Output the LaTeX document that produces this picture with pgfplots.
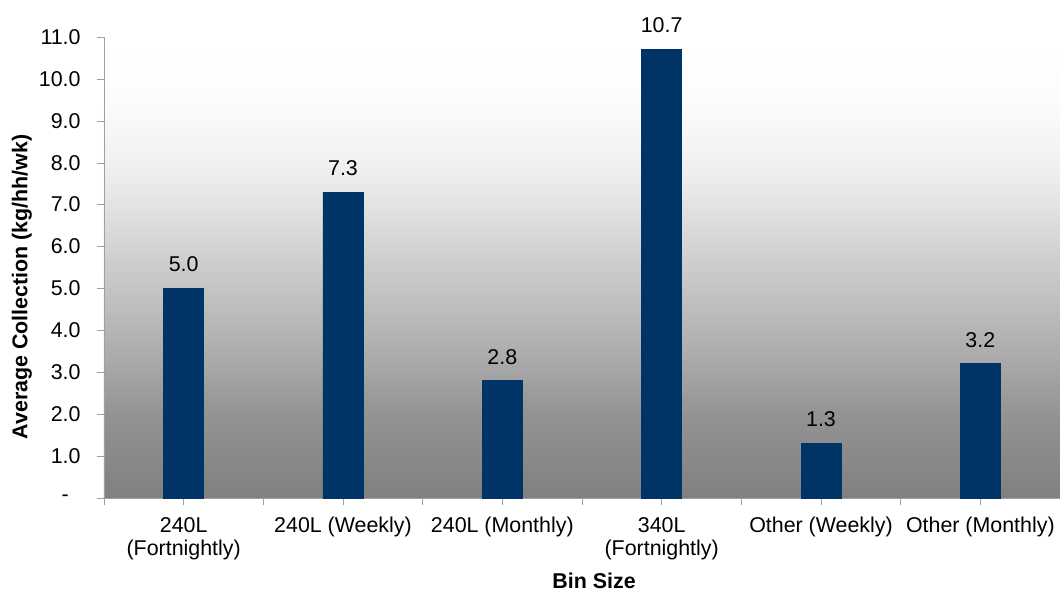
\documentclass[border=0pt]{standalone}
\usepackage{pgfplots}
\pgfplotsset{compat=1.18}
\usepackage{fontspec}
\setmainfont{Liberation Sans}
\definecolor{barblue}{RGB}{0,51,102}
\definecolor{tickgray}{RGB}{160,160,160}
\definecolor{ga}{RGB}{128,128,128}
\definecolor{gb}{RGB}{147,147,147}
\definecolor{gc}{RGB}{170,170,170}
\definecolor{gd}{RGB}{214,214,214}
\definecolor{ge}{RGB}{239,239,239}
\definecolor{gf}{RGB}{252,252,252}
\definecolor{gg}{RGB}{255,255,255}
\pgfdeclareverticalshading{plotbg}{100bp}{color(0bp)=(ga); color(25bp)=(ga); color(34bp)=(gb); color(40bp)=(gc); color(53bp)=(gd); color(60.5bp)=(ge); color(68bp)=(gf); color(75bp)=(gg); color(100bp)=(gg)}
\pgfplotstableread{
x y
0 5.0
1 7.3
2 2.8
3 10.7
4 1.3
5 3.2
}\bindata
\begin{document}
\begin{tikzpicture}
\begin{axis}[
  scale only axis,
  width=478pt, height=230.5pt,
  font=\fontsize{10.7}{11.5}\selectfont,
  axis background/.style={shading=plotbg},
  xmin=-0.5, xmax=5.5,
  ymin=0, ymax=11,
  axis line style={draw=tickgray},
  axis x line*=bottom, axis y line*=left,
  ytick={0,1,...,11},
  yticklabels={{-\hphantom{0}},1.0,2.0,3.0,4.0,5.0,6.0,7.0,8.0,9.0,10.0,11.0},
  ytick style={draw=tickgray},
  y tick label style={anchor=east, inner sep=0pt, xshift=-8pt},
  ytick align=outside,
  major tick length=3.5pt,
  xtick={0,1,2,3,4,5},
  xticklabels={240L\\(Fortnightly), 240L (Weekly), 240L (Monthly), 340L\\(Fortnightly), Other (Weekly), Other (Monthly)},
  x tick label style={align=center, anchor=north, inner sep=0pt, yshift=-6pt},
  x tick style={draw=tickgray},
  xtick align=center,
  extra x ticks={-0.5,0.5,1.5,2.5,3.5,4.5,5.5},
  extra x tick labels={},
  extra x tick style={tick align=outside, major tick length=3.5pt, tick style={draw=tickgray}},
  every axis y label/.style={at={(axis description cs:0,0.458)}, xshift=-41pt, rotate=90, anchor=center, font=\fontsize{10.7}{11.5}\selectfont\bfseries, inner sep=0pt},
  every axis x label/.style={at={(axis description cs:0.5126,0)}, yshift=-41.3pt, anchor=center, font=\fontsize{10.7}{11.5}\selectfont\bfseries, inner sep=0pt},
  ylabel={Average Collection (kg/hh/wk)},
  xlabel={Bin Size},
  ybar, bar width=20pt,
  nodes near coords={\pgfmathprintnumber[fixed,fixed zerofill,precision=1,assume math mode=true]{\pgfplotspointmeta}},
  every node near coord/.append style={anchor=south, inner sep=0pt, yshift=8pt, text=black},
  clip=false,
]
\addplot[fill=barblue, draw=barblue] table[x=x,y=y] {\bindata};
\end{axis}
\pgfresetboundingbox
\useasboundingbox (-52pt,-47pt) rectangle (478pt,249pt);
\end{tikzpicture}
\end{document}
